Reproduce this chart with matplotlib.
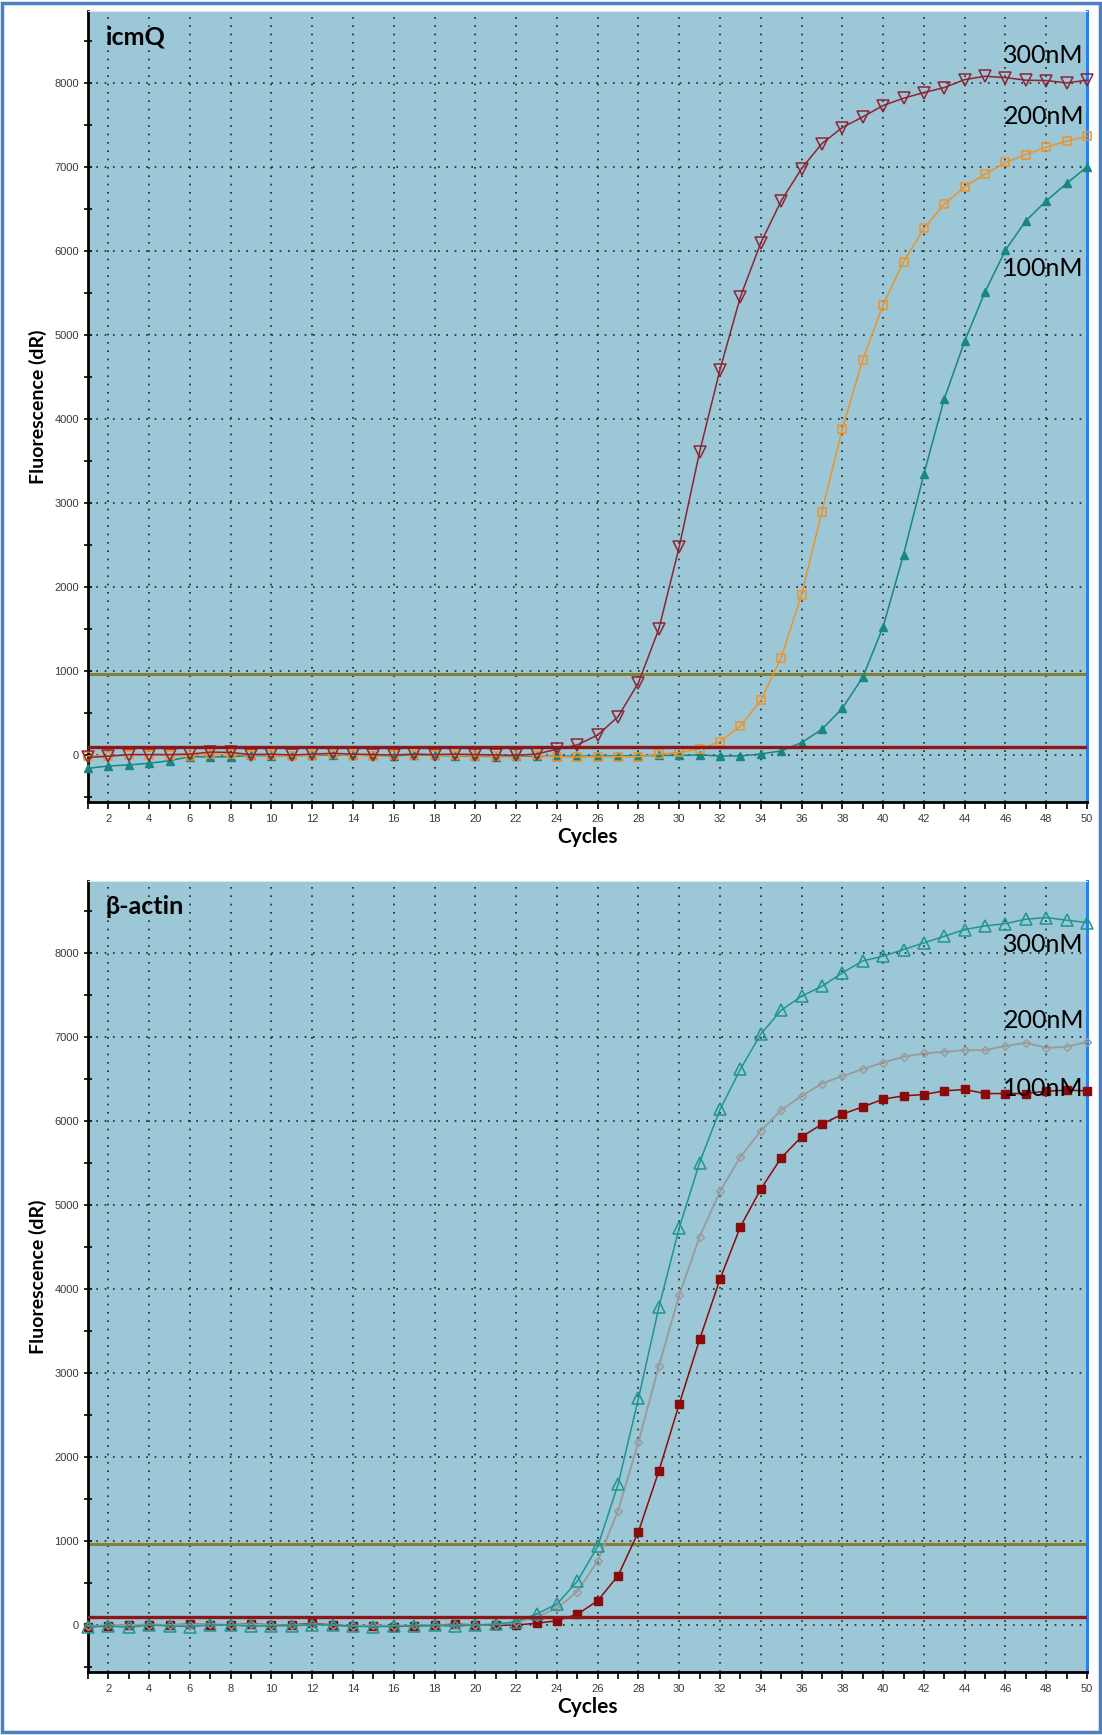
import numpy as np
import matplotlib
matplotlib.use('Agg')
import matplotlib.pyplot as plt
from matplotlib.patches import Rectangle

# qPCR amplification curves, primer concentration test

cycles = np.arange(1, 51)

icmq_300 = [-30, -15, 5, 5, 5, 10, 35, 30, 5, 10, 0, 10, 20, 10, 5, 0, 10, 5, 10, 5,
            0, -5, 12, 68, 119, 238, 456, 861, 1500, 2480, 3610, 4590, 5456, 6099, 6599,
            6984, 7282, 7472, 7599, 7734, 7821, 7889, 7948, 8043, 8083, 8067, 8036, 8032,
            8004, 8036]
icmq_200 = [-10, -10, 0, 0, -5, -10, 10, 10, 0, 0, -15, 0, 10, 0, -15, 0, 5, 0, -5, -10,
            -15, -10, -5, -20, -25, -20, -20, -20, 10, 30, 71, 159, 345, 651, 1158, 1910,
            2899, 3887, 4704, 5362, 5873, 6270, 6560, 6766, 6917, 7056, 7151, 7238, 7310,
            7369]
icmq_100 = [-159, -131, -119, -99, -68, -20, -24, -20, -5, -10, -5, -5, 0, 5, -5, -10, 0,
            -5, -10, -15, -20, -15, -15, -12, -15, -12, -10, -10, -5, -5, 0, -12, -12, 12,
            48, 147, 306, 556, 925, 1528, 2385, 3346, 4242, 4928, 5516, 6012, 6361, 6599,
            6806, 7004]

actin_300 = [-20, -10, -30, 0, -10, -20, 0, 0, -15, -10, -10, 5, 0, -15, -20, -15, -10,
             -5, -15, 0, 10, 40, 130, 250, 520, 935, 1675, 2699, 3782, 4730, 5507, 6139,
             6619, 7036, 7321, 7488, 7607, 7766, 7909, 7964, 8044, 8123, 8202, 8282, 8325,
             8353, 8405, 8425, 8393, 8365]
actin_200 = [-10, -5, 0, 5, 0, 5, 10, 0, 10, 0, -5, 10, 0, -10, -5, -10, -5, 0, -5, 0, 5,
             30, 95, 198, 397, 762, 1361, 2183, 3083, 3929, 4624, 5165, 5575, 5885, 6131,
             6301, 6448, 6536, 6619, 6698, 6766, 6806, 6825, 6845, 6845, 6896, 6933, 6873,
             6885, 6944]
actin_100 = [-20, -15, 0, 5, 0, 10, 5, 0, 15, 0, 0, 20, 0, -15, -10, -20, -10, -5, 10, 0,
             -5, 0, 20, 51, 127, 289, 587, 1111, 1833, 2631, 3401, 4119, 4743, 5191, 5563,
             5813, 5964, 6083, 6170, 6262, 6301, 6317, 6361, 6377, 6329, 6329, 6329, 6357,
             6369, 6361]

threshold_high = 960
threshold_low = 100
conc_labels = ['300nM', '200nM', '100nM']

bg = '#9BC7D6'
label_font = 'Lato'
tick_font = 'Liberation Sans'

fig = plt.figure(figsize=(11.02, 17.35), dpi=100)
ax1 = fig.add_axes([88 / 1102, 1 - 802 / 1735, 999 / 1102, 791 / 1735])
ax2 = fig.add_axes([88 / 1102, 1 - 1672 / 1735, 999 / 1102, 791 / 1735])


def style_axes(ax, title):
    ax.set_facecolor(bg)
    ax.set_xlim(1, 50)
    ax.set_ylim(-560, 8860)
    ax.set_xticks(np.arange(2, 51, 2))
    ax.set_xticks(np.arange(1, 51), minor=True)
    ax.set_yticks(np.arange(0, 8001, 1000))
    ax.set_yticks(np.arange(-500, 8501, 500), minor=True)
    ax.grid(True, which='major', color='#222222', linestyle=(0, (1, 4)), linewidth=1.2)
    ax.tick_params(axis='both', which='both', labelsize=8, labelcolor='#3a3a3a',
                   width=1.2, color='black')
    ax.tick_params(axis='x', which='both', direction='out', length=5)
    ax.tick_params(axis='y', which='both', direction='inout', length=6)
    for lab in ax.get_xticklabels() + ax.get_yticklabels():
        lab.set_family(tick_font)
    ax.spines['left'].set_linewidth(2)
    ax.spines['bottom'].set_linewidth(2)
    ax.spines['top'].set_color('#d8e8ee')
    ax.spines['right'].set_color('#1E7FFF')
    ax.spines['right'].set_linewidth(2.2)
    ax.axhline(threshold_high, color='#857F35', linewidth=2.2, zorder=2)
    ax.axhline(threshold_low, color='#8E1518', linewidth=2.4, zorder=4)
    ax.set_xlabel('Cycles', fontsize=15, fontweight='bold', family=label_font, labelpad=2)
    ax.set_ylabel('Fluorescence (dR)', fontsize=14, fontweight='bold', family=label_font,
                  labelpad=5)
    ax.text(0.018, 0.982, title, transform=ax.transAxes, fontsize=18, fontweight='bold',
            family=label_font, va='top', ha='left')


# icmQ panel
style_axes(ax1, 'icmQ')
ax1.plot(cycles, icmq_100, color='#17877F', marker='^', markersize=6, linewidth=1.1,
         clip_on=False, zorder=3)
ax1.plot(cycles, icmq_200, color='#F0922A', marker='s', markersize=6, linewidth=1.1,
         markerfacecolor='none', markeredgewidth=1.1, clip_on=False, zorder=3)
ax1.plot(cycles, icmq_300, color='#8E2433', marker='v', markersize=8, linewidth=1.1,
         markerfacecolor='none', markeredgewidth=1.1, clip_on=False, zorder=3)
ax1.text(49.85, 8330, conc_labels[0], fontsize=18, family=label_font, ha='right', va='center')
ax1.text(49.85, 7600, conc_labels[1], fontsize=18, family=label_font, ha='right', va='center')
ax1.text(49.85, 5790, conc_labels[2], fontsize=18, family=label_font, ha='right', va='center')

# beta-actin panel
style_axes(ax2, 'β-actin')
ax2.plot(cycles, actin_100, color='#8B0A0A', marker='s', markersize=6, linewidth=1.1,
         clip_on=False, zorder=3)
ax2.plot(cycles, actin_200, color='#9A9A9A', marker='D', markersize=4.5, linewidth=1.3,
         markerfacecolor='none', markeredgewidth=1, clip_on=False, zorder=3)
ax2.plot(cycles, actin_300, color='#1F9590', marker='^', markersize=9, linewidth=1.1,
         markerfacecolor='none', markeredgewidth=1.1, clip_on=False, zorder=3)
ax2.text(49.85, 8100, conc_labels[0], fontsize=18, family=label_font, ha='right', va='center')
ax2.text(49.85, 7200, conc_labels[1], fontsize=18, family=label_font, ha='right', va='center')
ax2.text(49.85, 6390, conc_labels[2], fontsize=18, family=label_font, ha='right', va='center')

# outer frame
fig.patches.append(Rectangle((0.002, 0.002), 0.996, 0.996, transform=fig.transFigure,
                             fill=False, edgecolor='#4F7FBF', linewidth=2.5))

fig.savefig('out.png', dpi=100)
